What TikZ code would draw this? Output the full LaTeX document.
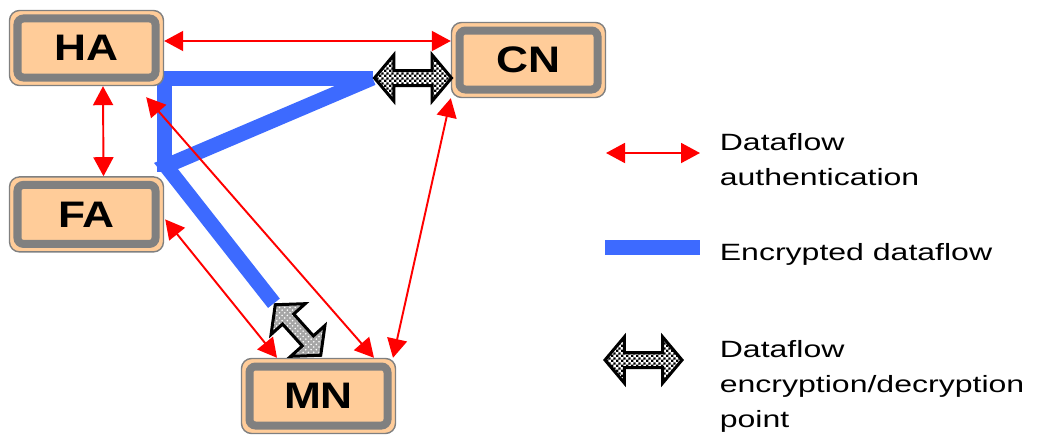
\documentclass[tikz,border=0pt]{standalone}
\usepackage{fontspec}
\usepackage{tikz}
\usetikzlibrary{arrows.meta, positioning, calc, shapes.arrows, patterns, backgrounds}
\newfontfamily\boxfont[FakeStretch=1.2]{Liberation Sans}
\newfontfamily\keyfont[FakeStretch=1.36]{Liberation Sans}
\definecolor{cPeach}{RGB}{255,204,153}
\definecolor{cFrame}{RGB}{128,128,128}
\definecolor{cFlow}{RGB}{61,106,255}
% small checker for the crypto arrows
\pgfdeclarepatternformonly{finecheck}{\pgfqpoint{0pt}{0pt}}{\pgfqpoint{3pt}{3pt}}{\pgfqpoint{3pt}{3pt}}{%
	\pgfpathrectangle{\pgfqpoint{0pt}{0pt}}{\pgfqpoint{1.5pt}{1.5pt}}%
	\pgfpathrectangle{\pgfqpoint{1.5pt}{1.5pt}}{\pgfqpoint{1.5pt}{1.5pt}}%
	\pgfusepath{fill}}
\tikzset{
	agent/.style={rectangle, rounded corners=0.2cm, draw=cFrame, line width=0.8pt, fill=cPeach,
		minimum width=3.08cm, minimum height=1.5cm, inner sep=0pt, text centered,
		font=\boxfont\fontsize{21}{24}\selectfont\bfseries,
		path picture={\draw[cFrame, line width=0.16cm, rounded corners=0.12cm]
			([shift={(0.16,-0.16)}]path picture bounding box.north west) rectangle
			([shift={(-0.16,0.16)}]path picture bounding box.south east);}},
	authflow/.style={{Triangle[length=0.38cm,width=0.4cm]}-{Triangle[length=0.38cm,width=0.4cm]}, draw=red, line width=1.1pt},
	encflow/.style={draw=cFlow, line width=0.3cm, line join=miter},
	% encryption/decryption point
	cryptpoint/.style={double arrow, draw=black, line width=0.06cm, line join=miter,
		double arrow head extend=0.31cm, double arrow tip angle=100,
		inner xsep=0pt, inner ysep=0.12cm, minimum height=1.54cm,
		preaction={fill=white}, pattern=finecheck},
	keytext/.style={anchor=north west, inner sep=0pt, align=left, font=\keyfont\fontsize{13.4}{19.9}\selectfont},
}

\begin{document}
\begin{tikzpicture}
	\useasboundingbox (0,0) rectangle (21.04,8.68);
	\node[agent] (ha) at (1.73,7.72) {HA};
	\node[agent, below=1.8cm of ha] (fa) {FA};
	\node[agent] (cn) at (10.57,7.48) {CN};
	\node[agent] (mn) at (6.37,0.76) {MN};
	\node[cryptpoint] (cnpt) at (8.26,7.12) {};
	\node[cryptpoint, minimum height=1.36cm, rotate=-48, preaction={fill=gray!70}, pattern=crosshatch dots, pattern color=white] (mnpt) at (5.96,2.08) {};
	\begin{scope}[on background layer]
		\draw[encflow] (cnpt.west) -- (3.28,7.12) -- (3.28,5.25);
		\draw[encflow] (cnpt.west) -- (3.32,5.36) -- (mnpt.west);
	\end{scope}
	\draw[authflow] ($(ha.east)+(0,0.14)$) -- ($(ha.east -| cn.west)+(0,0.14)$);
	\draw[authflow] ($(ha.south)+(0.33,0)$) -- ($(fa.north)+(0.34,0)$);
	\draw[authflow] ($(ha.south east)+(-0.36,-0.22)$) -- ($(mn.north)+(1.11,0)$);
	\draw[authflow] ($(fa.east)+(0.02,-0.1)$) -- ($(mn.north)+(-0.83,0)$);
	\draw[authflow] (cn.south west) -- ($(mn.north)+(1.49,0)$);
	% key
	\coordinate (authA) at (12.12,5.62);
	\coordinate (authB) at (14.0,5.62);
	\draw[authflow] (authA) -- (authB);
	\node[keytext] (authkey) at (14.39,6.02) {Dataflow\\authentication};
	\coordinate (encA) at (12.1,3.74);
	\coordinate (encB) at (14.0,3.74);
	\draw[encflow] (encA) -- (encB);
	\node[keytext] (enckey) at (14.39,3.82) {Encrypted dataflow};
	\node[cryptpoint] (cryptkey) at (12.87,1.48) {};
	\node[keytext] (cryptkeytext) at (14.39,1.88) {Dataflow\\encryption/decryption\\point};
\end{tikzpicture}
\end{document}
